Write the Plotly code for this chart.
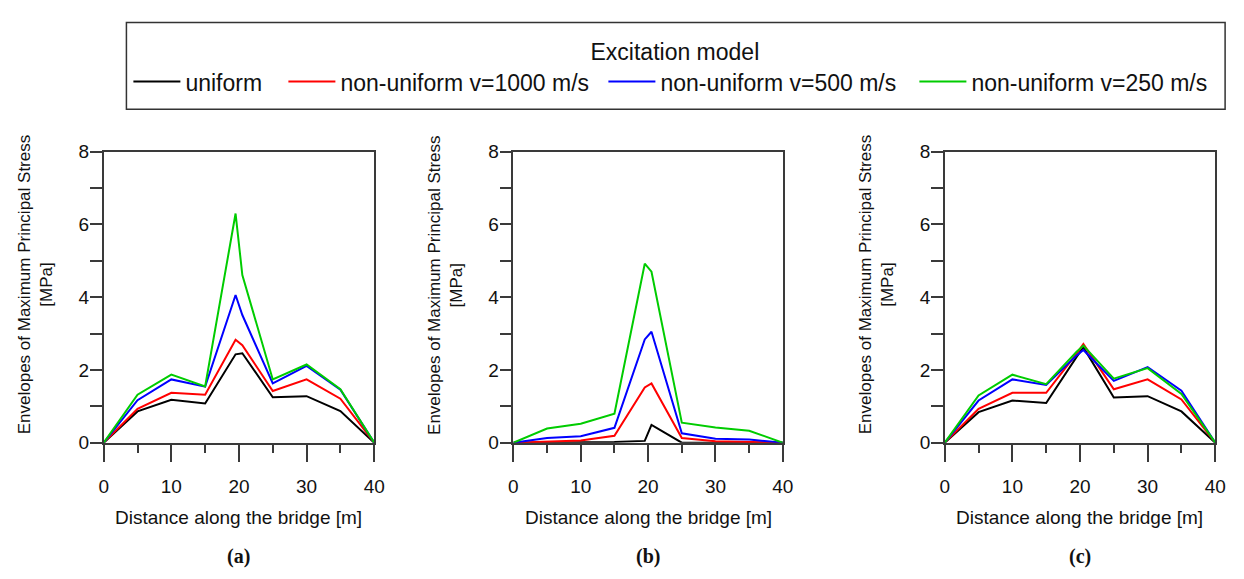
import plotly.graph_objects as go

# ---- data ----
distance = [0, 5, 10, 15, 19.5, 20.5, 25, 30, 35, 40]
series_names = ["uniform", "non-uniform v=1000 m/s", "non-uniform v=500 m/s", "non-uniform v=250 m/s"]
series_colors = ["#000000", "#FF0000", "#0000FF", "#00CC00"]

a_uniform = [0, 0.86, 1.18, 1.08, 2.43, 2.46, 1.25, 1.28, 0.87, 0]
a_v1000 = [0, 0.93, 1.37, 1.32, 2.83, 2.68, 1.42, 1.74, 1.21, 0]
a_v500 = [0, 1.17, 1.74, 1.54, 4.06, 3.51, 1.63, 2.11, 1.46, 0]
a_v250 = [0, 1.32, 1.87, 1.55, 6.30, 4.61, 1.74, 2.15, 1.47, 0]

b_uniform = [0, 0.01, 0.02, 0.02, 0.05, 0.49, 0, 0, 0, 0]
b_v1000 = [0, 0.04, 0.06, 0.19, 1.52, 1.63, 0.13, 0.04, 0.03, 0]
b_v500 = [0, 0.13, 0.18, 0.41, 2.84, 3.05, 0.26, 0.11, 0.09, 0]
b_v250 = [0, 0.39, 0.52, 0.80, 4.92, 4.70, 0.55, 0.42, 0.33, 0]

c_uniform = [0, 0.84, 1.16, 1.09, 2.36, 2.62, 1.24, 1.28, 0.86, 0]
c_v1000 = [0, 0.93, 1.37, 1.37, 2.45, 2.71, 1.47, 1.74, 1.19, 0]
c_v500 = [0, 1.16, 1.74, 1.59, 2.40, 2.55, 1.70, 2.08, 1.43, 0]
c_v250 = [0, 1.30, 1.87, 1.61, 2.50, 2.67, 1.76, 2.05, 1.34, 0]

panels = [
    ("(a)", [a_uniform, a_v1000, a_v500, a_v250]),
    ("(b)", [b_uniform, b_v1000, b_v500, b_v250]),
    ("(c)", [c_uniform, c_v1000, c_v500, c_v250]),
]
x_ticks = [0, 10, 20, 30, 40]
y_ticks = [0, 2, 4, 6, 8]
x_title = "Distance along the bridge [m]"
y_title = "Envelopes of Maximum Principal Stress<br>[MPa]"
legend_title = "Excitation model"

# ---- layout geometry (page px) ----
W, H = 1244, 579


def px(x):
    return x / W


def py(y):
    return 1 - y / H


x_domains_px = [(100, 374), (515, 788), (952, 1226)]
y_top_px, y_bot_px = 147, 449
legend_widths = [93, 258, 249, 245]
FONT = "Liberation Sans, Arial, sans-serif"
AXC = "#3a3a3a"

fig = go.Figure()
for i, (label, series) in enumerate(panels):
    sfx = "" if i == 0 else str(i + 1)
    for j, ys in enumerate(series):
        fig.add_trace(go.Scatter(
            x=distance, y=ys, mode="lines",
            name=series_names[j],
            line=dict(color=series_colors[j], width=2),
            showlegend=(i == 0),
            legendwidth=legend_widths[j],
            xaxis="x" + sfx, yaxis="y" + sfx,
        ))

layout = dict(
    width=W, height=H,
    margin=dict(l=0, r=0, t=0, b=0),
    paper_bgcolor="white", plot_bgcolor="white",
    font=dict(family=FONT, size=19, color="#111"),
    legend=dict(
        orientation="h",
        x=px(125), xanchor="left",
        y=py(21), yanchor="top",
        borderwidth=0, bgcolor="rgba(0,0,0,0)",
        font=dict(size=23, family=FONT, color="#111"),
        title=dict(text=legend_title, side="top center", font=dict(size=23, family=FONT)),
        itemwidth=47,
        tracegroupgap=0,
    ),
    shapes=[dict(type="rect", xref="paper", yref="paper",
                 x0=px(123), x1=px(1236), y0=py(103), y1=py(13),
                 line=dict(color="#333", width=1.5), fillcolor="rgba(0,0,0,0)")],
)
annotations = []
for i, (label, series) in enumerate(panels):
    sfx = "" if i == 0 else str(i + 1)
    x0, x1 = x_domains_px[i]
    layout["xaxis" + sfx] = dict(
        domain=[px(x0), px(x1)], range=[0, 40], anchor="y" + sfx,
        tickvals=x_ticks, ticks="outside", ticklen=18, tickwidth=1.5, tickcolor=AXC,
        minor=dict(dtick=5, ticks="outside", ticklen=9, tickwidth=1.5, tickcolor=AXC, showgrid=False),
        showline=True, linecolor=AXC, linewidth=1.5, mirror=True,
        showgrid=False, zeroline=False,
        tickfont=dict(size=19, family=FONT, color="#111"),
        ticklabelstandoff=8,
    )
    layout["yaxis" + sfx] = dict(
        domain=[py(y_bot_px), py(y_top_px)], range=[0, 8], anchor="x" + sfx,
        tickvals=y_ticks, ticks="outside", ticklen=12, tickwidth=1.5, tickcolor=AXC,
        minor=dict(dtick=1, ticks="outside", ticklen=12, tickwidth=1.5, tickcolor=AXC, showgrid=False),
        showline=True, linecolor=AXC, linewidth=1.5, mirror=True,
        showgrid=False, zeroline=False,
        tickfont=dict(size=19, family=FONT, color="#111"),
        ticklabelstandoff=-3,
    )
    cx = (x0 + x1) / 2
    annotations.append(dict(
        text=x_title, x=px(cx), y=py(527), xref="paper", yref="paper",
        xanchor="center", yanchor="middle", showarrow=False,
        font=dict(size=19, family=FONT, color="#111"),
    ))
    annotations.append(dict(
        text=y_title, x=px(x0 - 69), y=py(285), xref="paper", yref="paper",
        xanchor="center", yanchor="middle", showarrow=False, textangle=-90,
        font=dict(size=17, family=FONT, color="#111"),
    ))
    annotations.append(dict(
        text="<b>" + label + "</b>", x=px(cx), y=py(567), xref="paper", yref="paper",
        xanchor="center", yanchor="middle", showarrow=False,
        font=dict(size=20, family="Liberation Serif, serif", color="#111"),
    ))
layout["annotations"] = annotations
fig.update_layout(**layout)
fig.write_html("out.html", config={"displayModeBar": False},
               post_script="document.body.style.margin='0';document.body.style.overflow='hidden';")
